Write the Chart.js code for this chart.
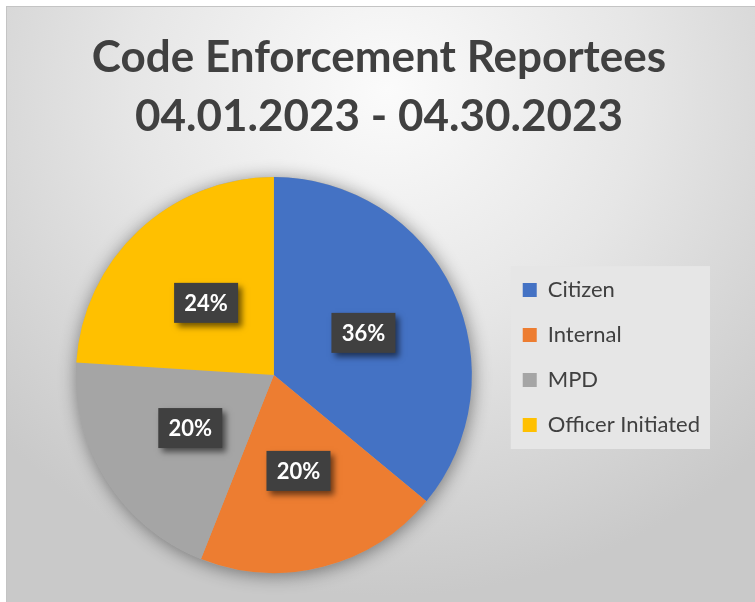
<!DOCTYPE html>
<html>
<head>
<meta charset="utf-8">
<script src="https://cdn.jsdelivr.net/npm/chart.js@4.4.0/dist/chart.umd.min.js"></script>
<style>
    html, body { margin: 0; padding: 0; background: #ffffff; }
    #frame {
        position: absolute; left: 6px; top: 6px; width: 760px; height: 595px;
        border-top: 1px solid #c4c4c4; border-left: 1px solid #c4c4c4;
        background: radial-gradient(ellipse 70% 85% at 50% 14%, #fbfbfb 0%, #e6e6e6 48%, #c9c9c9 100%);
    }
    #wrap { position: absolute; left: 0; top: 0; width: 755px; height: 602px; }
</style>
</head>
<body>
<div id="frame"></div>
<div id="wrap"><canvas id="reporteesChart"></canvas></div>
<script>
    const titleLines = ['Code Enforcement Reportees', '04.01.2023 - 04.30.2023'];
    const categories = ['Citizen', 'Internal', 'MPD', 'Officer Initiated'];
    const shares = [36, 20, 20, 24];
    const sliceColors = ['#4472C4', '#ED7D31', '#A5A5A5', '#FFC000'];

    const textColor = '#404040';

    // soft glow behind the pie, drawn once so slices don't shade each other
    const pieGlow = {
        id: 'pieGlow',
        beforeDatasetsDraw(chart) {
            const arc = chart.getDatasetMeta(0).data[0];
            if (!arc) return;
            const { ctx } = chart;
            ctx.save();
            ctx.shadowColor = 'rgba(0, 0, 0, 0.45)';
            ctx.shadowBlur = 18;
            ctx.shadowOffsetX = 1;
            ctx.shadowOffsetY = 2;
            ctx.fillStyle = '#a8a8a8';
            ctx.beginPath();
            ctx.arc(arc.x, arc.y, arc.outerRadius, 0, Math.PI * 2);
            ctx.fill();
            ctx.restore();
        }
    };

    // lighter panel behind the legend entries
    const legendPanel = {
        id: 'legendPanel',
        beforeDraw(chart) {
            const boxes = chart.legend && chart.legend.legendHitBoxes;
            if (!boxes || !boxes.length) return;
            const left = Math.min(...boxes.map(b => b.left)) - 12;
            const top = boxes[0].top - 13;
            const right = Math.max(...boxes.map(b => b.left + b.width)) + 10;
            const last = boxes[boxes.length - 1];
            const bottom = last.top + last.height + 13;
            const { ctx } = chart;
            ctx.save();
            ctx.fillStyle = '#e6e6e6';
            ctx.fillRect(left, top, right - left, bottom - top);
            ctx.restore();
        }
    };

    // dark percentage tags in the middle of each slice
    const sliceTags = {
        id: 'sliceTags',
        afterDatasetsDraw(chart) {
            const { ctx } = chart;
            const data = chart.data.datasets[0].data;
            const total = data.reduce((a, b) => a + b, 0);
            ctx.save();
            ctx.font = "bold 22px Lato, 'Open Sans', sans-serif";
            ctx.textAlign = 'center';
            ctx.textBaseline = 'middle';
            chart.getDatasetMeta(0).data.forEach((arc, i) => {
                const { x, y } = arc.tooltipPosition();
                const label = Math.round(data[i] / total * 100) + '%';
                const w = 64, h = 40;
                ctx.save();
                ctx.shadowColor = 'rgba(0, 0, 0, 0.55)';
                ctx.shadowBlur = 6;
                ctx.shadowOffsetX = 4;
                ctx.shadowOffsetY = 4;
                ctx.fillStyle = '#404040';
                ctx.fillRect(x - w / 2, y - h / 2, w, h);
                ctx.restore();
                ctx.fillStyle = '#ffffff';
                ctx.fillText(label, x, y + 1);
            });
            ctx.restore();
        }
    };

    new Chart(document.getElementById('reporteesChart'), {
        type: 'pie',
        data: {
            labels: categories,
            datasets: [{
                data: shares,
                backgroundColor: sliceColors,
                borderWidth: 0,
            }]
        },
        plugins: [pieGlow, legendPanel, sliceTags],
        options: {
            responsive: true,
            maintainAspectRatio: false,
            animation: false,
            events: [],
            layout: {
                padding: { left: 48, right: 45, top: 7, bottom: 29 }
            },
            plugins: {
                title: {
                    display: true,
                    text: titleLines,
                    color: textColor,
                    font: { family: "Lato, 'Open Sans', sans-serif", size: 44, weight: 'bold', lineHeight: 1.33 },
                    padding: { top: 22, bottom: 31 }
                },
                legend: {
                    position: 'right',
                    align: 'start',
                    fullSize: false,
                    maxWidth: 214,
                    title: {
                        display: true,
                        text: '',
                        font: { size: 10, lineHeight: 1 },
                        padding: { top: 69, bottom: 0 }
                    },
                    labels: {
                        color: textColor,
                        boxWidth: 14,
                        boxHeight: 14,
                        padding: 23,
                        font: { family: "Lato, 'Open Sans', sans-serif", size: 22 }
                    }
                },
                tooltip: { enabled: false }
            }
        }
    });
</script>
</body>
</html>
